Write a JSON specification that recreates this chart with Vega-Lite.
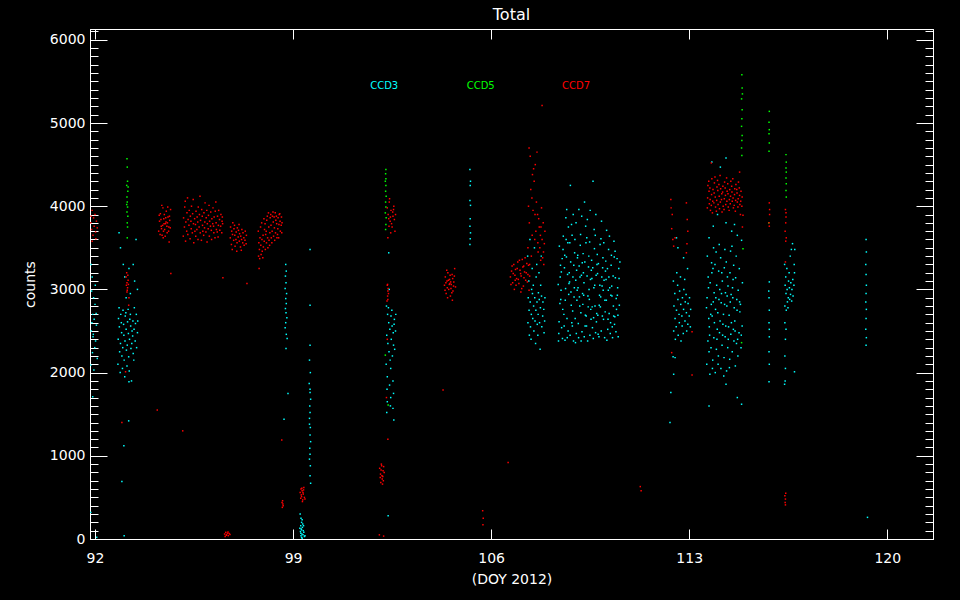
{
"$schema": "https://vega.github.io/schema/vega-lite/v6.json",
"width": 843, "height": 510,
"autosize": {"type": "none"},
"padding": {"left": 90, "top": 29, "right": 27, "bottom": 61},
"background": "black",
"title": {"text": "Total", "color": "white", "font": "DejaVu Sans", "fontSize": 16, "fontWeight": "normal", "offset": 6, "anchor": "middle"},
"datasets": {
"c3": [
{"doy":91.86,"counts":3300},{"doy":91.9,"counts":3150},{"doy":91.88,"counts":2980},{"doy":91.95,"counts":2900},{"doy":92.0,"counts":2820},{"doy":91.92,"counts":2700},{"doy":91.97,"counts":2640},{"doy":92.05,"counts":2570},{"doy":91.87,"counts":2500},{"doy":91.93,"counts":2430},{"doy":92.02,"counts":2380},{"doy":91.99,"counts":2300},{"doy":91.91,"counts":2240},{"doy":92.08,"counts":2170},{"doy":91.85,"counts":2090},{"doy":91.96,"counts":2030},{"doy":92.04,"counts":2710},{"doy":91.89,"counts":2600},{"doy":92.01,"counts":3050},{"doy":91.94,"counts":2460},{"doy":91.92,"counts":1710},{"doy":91.85,"counts":320},{"doy":92.06,"counts":20},
{"doy":92.82,"counts":2400},{"doy":92.83,"counts":2650},{"doy":92.81,"counts":2100},{"doy":92.86,"counts":2550},{"doy":92.87,"counts":2250},{"doy":92.85,"counts":2780},{"doy":92.9,"counts":2350},{"doy":92.91,"counts":2700},{"doy":92.89,"counts":2000},{"doy":92.94,"counts":2480},{"doy":92.95,"counts":2200},{"doy":92.93,"counts":2600},{"doy":92.98,"counts":2300},{"doy":92.99,"counts":2750},{"doy":92.97,"counts":2050},{"doy":93.02,"counts":2450},{"doy":93.03,"counts":2150},{"doy":93.01,"counts":2580},{"doy":93.06,"counts":2380},{"doy":93.07,"counts":2680},{"doy":93.05,"counts":1950},{"doy":93.1,"counts":2520},{"doy":93.11,"counts":2270},{"doy":93.09,"counts":2720},{"doy":93.14,"counts":2330},{"doy":93.15,"counts":2610},{"doy":93.13,"counts":2080},{"doy":93.18,"counts":2470},{"doy":93.19,"counts":2190},{"doy":93.17,"counts":2760},{"doy":93.22,"counts":2400},{"doy":93.23,"counts":2640},{"doy":93.21,"counts":2020},{"doy":93.26,"counts":2560},{"doy":93.27,"counts":2290},{"doy":93.25,"counts":2700},{"doy":93.3,"counts":2350},{"doy":93.31,"counts":2500},{"doy":93.29,"counts":1900},{"doy":93.34,"counts":2620},{"doy":93.35,"counts":2230},{"doy":93.33,"counts":2440},{"doy":93.38,"counts":2520},{"doy":93.39,"counts":2780},{"doy":93.37,"counts":2150},{"doy":93.42,"counts":2380},{"doy":93.43,"counts":2590},{"doy":93.46,"counts":2700},{"doy":93.47,"counts":2300},{"doy":93.5,"counts":2480},{"doy":93.51,"counts":2620},
{"doy":92.85,"counts":3680},{"doy":92.9,"counts":3500},{"doy":93.0,"counts":3300},{"doy":93.05,"counts":3150},{"doy":93.35,"counts":3300},{"doy":93.4,"counts":3100},{"doy":93.45,"counts":3600},{"doy":93.2,"counts":3250},{"doy":93.25,"counts":2950},{"doy":93.1,"counts":2900},{"doy":93.5,"counts":3000},{"doy":93.2,"counts":1890},{"doy":93.19,"counts":1420},{"doy":93.02,"counts":1120},{"doy":92.95,"counts":690},{"doy":93.03,"counts":40},
{"doy":98.74,"counts":3300},{"doy":98.76,"counts":3220},{"doy":98.73,"counts":3160},{"doy":98.75,"counts":3080},{"doy":98.72,"counts":3010},{"doy":98.77,"counts":2950},{"doy":98.74,"counts":2890},{"doy":98.76,"counts":2830},{"doy":98.73,"counts":2770},{"doy":98.75,"counts":2720},{"doy":98.78,"counts":2660},{"doy":98.74,"counts":2600},{"doy":98.72,"counts":2540},{"doy":98.76,"counts":2460},{"doy":98.75,"counts":2290},{"doy":98.79,"counts":2410},{"doy":98.82,"counts":1750},{"doy":98.68,"counts":1440},
{"doy":99.6,"counts":2330},{"doy":99.58,"counts":2150},{"doy":99.61,"counts":2000},{"doy":99.57,"counts":1870},{"doy":99.6,"counts":1760},{"doy":99.62,"counts":1680},{"doy":99.59,"counts":1600},{"doy":99.6,"counts":1520},{"doy":99.58,"counts":1450},{"doy":99.61,"counts":1340},{"doy":99.6,"counts":1250},{"doy":99.62,"counts":1170},{"doy":99.59,"counts":1090},{"doy":99.6,"counts":1020},{"doy":99.58,"counts":960},{"doy":99.61,"counts":880},{"doy":99.6,"counts":760},{"doy":99.62,"counts":670},{"doy":99.58,"counts":1380},{"doy":99.6,"counts":1800},{"doy":99.6,"counts":3480},{"doy":99.6,"counts":2810},
{"doy":99.25,"counts":300},{"doy":99.28,"counts":250},{"doy":99.3,"counts":200},{"doy":99.27,"counts":160},{"doy":99.32,"counts":230},{"doy":99.29,"counts":120},{"doy":99.34,"counts":180},{"doy":99.26,"counts":90},{"doy":99.31,"counts":60},{"doy":99.33,"counts":140},{"doy":99.36,"counts":100},{"doy":99.28,"counts":40},{"doy":99.3,"counts":20},{"doy":99.35,"counts":50},{"doy":99.38,"counts":80},{"doy":99.24,"counts":130},{"doy":99.4,"counts":30},{"doy":99.32,"counts":10},{"doy":99.27,"counts":70},{"doy":99.37,"counts":160},{"doy":99.3,"counts":110},{"doy":99.42,"counts":40},
{"doy":102.3,"counts":2800},{"doy":102.31,"counts":2450},{"doy":102.29,"counts":2100},{"doy":102.34,"counts":2700},{"doy":102.35,"counts":2350},{"doy":102.33,"counts":1950},{"doy":102.38,"counts":2600},{"doy":102.39,"counts":2250},{"doy":102.37,"counts":2780},{"doy":102.42,"counts":2520},{"doy":102.43,"counts":2150},{"doy":102.41,"counts":1850},{"doy":102.46,"counts":2680},{"doy":102.47,"counts":2400},{"doy":102.45,"counts":2050},{"doy":102.5,"counts":2560},{"doy":102.51,"counts":2200},{"doy":102.49,"counts":2750},{"doy":102.54,"counts":2480},{"doy":102.55,"counts":2330},{"doy":102.53,"counts":1900},{"doy":102.58,"counts":2640},{"doy":102.59,"counts":2280},{"doy":102.57,"counts":2580},{"doy":102.62,"counts":2500},{"doy":102.63,"counts":2700},{"doy":102.32,"counts":1800},{"doy":102.33,"counts":1650},{"doy":102.31,"counts":1520},{"doy":102.45,"counts":1700},{"doy":102.44,"counts":1600},{"doy":102.55,"counts":1750},{"doy":102.56,"counts":1430},{"doy":102.38,"counts":3440},{"doy":102.4,"counts":3000},{"doy":102.36,"counts":280},{"doy":102.53,"counts":1570},
{"doy":105.25,"counts":4440},{"doy":105.27,"counts":4300},{"doy":105.26,"counts":4250},{"doy":105.25,"counts":4070},{"doy":105.27,"counts":4010},{"doy":105.26,"counts":3850},{"doy":105.25,"counts":3760},{"doy":105.27,"counts":3680},{"doy":105.26,"counts":3610},{"doy":105.25,"counts":3540},
{"doy":107.3,"counts":2600},{"doy":107.31,"counts":2900},{"doy":107.29,"counts":3400},{"doy":107.34,"counts":2750},{"doy":107.35,"counts":2450},{"doy":107.33,"counts":3100},{"doy":107.38,"counts":2850},{"doy":107.39,"counts":2550},{"doy":107.37,"counts":3600},{"doy":107.42,"counts":2700},{"doy":107.43,"counts":3000},{"doy":107.41,"counts":2400},{"doy":107.46,"counts":2950},{"doy":107.47,"counts":2650},{"doy":107.45,"counts":3250},{"doy":107.5,"counts":2800},{"doy":107.51,"counts":2500},{"doy":107.49,"counts":3050},{"doy":107.54,"counts":2900},{"doy":107.55,"counts":2620},{"doy":107.53,"counts":3500},{"doy":107.58,"counts":2750},{"doy":107.59,"counts":3150},{"doy":107.57,"counts":2350},{"doy":107.62,"counts":2850},{"doy":107.63,"counts":2580},{"doy":107.61,"counts":3300},{"doy":107.66,"counts":2700},{"doy":107.67,"counts":2960},{"doy":107.65,"counts":2450},{"doy":107.7,"counts":2880},{"doy":107.71,"counts":2600},{"doy":107.69,"counts":3200},{"doy":107.74,"counts":2780},{"doy":107.75,"counts":3050},{"doy":107.73,"counts":2280},{"doy":107.78,"counts":2920},{"doy":107.79,"counts":2550},{"doy":107.77,"counts":3400},{"doy":107.82,"counts":2680},{"doy":107.83,"counts":2850},{"doy":107.86,"counts":2760},{"doy":107.87,"counts":2480},{"doy":107.9,"counts":2900},{"doy":107.89,"counts":2620},
{"doy":108.39,"counts":2470},{"doy":108.43,"counts":2830},{"doy":108.37,"counts":3060},{"doy":108.45,"counts":3290},{"doy":108.41,"counts":3520},{"doy":108.4,"counts":2610},{"doy":108.44,"counts":3150},{"doy":108.38,"counts":2380},
{"doy":108.49,"counts":2540},{"doy":108.53,"counts":2760},{"doy":108.47,"counts":2990},{"doy":108.51,"counts":3370},{"doy":108.55,"counts":3640},{"doy":108.48,"counts":3210},{"doy":108.52,"counts":2410},{"doy":108.46,"counts":2880},{"doy":108.54,"counts":3480},
{"doy":108.61,"counts":2390},{"doy":108.57,"counts":2700},{"doy":108.63,"counts":3010},{"doy":108.59,"counts":3260},{"doy":108.65,"counts":3600},{"doy":108.58,"counts":2560},{"doy":108.62,"counts":2870},{"doy":108.6,"counts":3410},{"doy":108.64,"counts":3860},
{"doy":108.72,"counts":2500},{"doy":108.68,"counts":2650},{"doy":108.74,"counts":2940},{"doy":108.7,"counts":3180},{"doy":108.66,"counts":3390},{"doy":108.73,"counts":3750},{"doy":108.69,"counts":2420},{"doy":108.75,"counts":3070},{"doy":108.71,"counts":3560},{"doy":108.67,"counts":3960},
{"doy":108.79,"counts":2450},{"doy":108.83,"counts":2810},{"doy":108.77,"counts":3090},{"doy":108.81,"counts":3330},{"doy":108.85,"counts":2600},{"doy":108.78,"counts":3560},{"doy":108.82,"counts":2970},{"doy":108.76,"counts":3200},{"doy":108.84,"counts":3780},{"doy":108.8,"counts":4250},
{"doy":108.91,"counts":2380},{"doy":108.87,"counts":2560},{"doy":108.93,"counts":2910},{"doy":108.89,"counts":3150},{"doy":108.95,"counts":3440},{"doy":108.88,"counts":2740},{"doy":108.92,"counts":3290},{"doy":108.86,"counts":3650},{"doy":108.94,"counts":3020},{"doy":108.9,"counts":3900},
{"doy":109.01,"counts":2470},{"doy":108.97,"counts":2650},{"doy":109.03,"counts":2870},{"doy":108.99,"counts":3110},{"doy":109.05,"counts":3380},{"doy":108.98,"counts":2360},{"doy":109.02,"counts":3230},{"doy":108.96,"counts":3600},{"doy":109.04,"counts":2990},{"doy":109.0,"counts":3800},
{"doy":109.09,"counts":2420},{"doy":109.13,"counts":2800},{"doy":109.07,"counts":3020},{"doy":109.11,"counts":3280},{"doy":109.15,"counts":3530},{"doy":109.08,"counts":2590},{"doy":109.12,"counts":2910},{"doy":109.06,"counts":3410},{"doy":109.14,"counts":3150},{"doy":109.1,"counts":3960},
{"doy":109.21,"counts":2490},{"doy":109.17,"counts":2720},{"doy":109.23,"counts":2950},{"doy":109.19,"counts":3170},{"doy":109.25,"counts":3430},{"doy":109.18,"counts":2380},{"doy":109.22,"counts":3320},{"doy":109.16,"counts":3660},{"doy":109.24,"counts":2820},{"doy":109.2,"counts":3880},
{"doy":109.29,"counts":2430},{"doy":109.33,"counts":2690},{"doy":109.27,"counts":2930},{"doy":109.31,"counts":3330},{"doy":109.35,"counts":3560},{"doy":109.28,"counts":3080},{"doy":109.32,"counts":2560},{"doy":109.26,"counts":3200},{"doy":109.34,"counts":3760},{"doy":109.3,"counts":4050},
{"doy":109.41,"counts":2380},{"doy":109.37,"counts":2560},{"doy":109.43,"counts":2790},{"doy":109.39,"counts":3160},{"doy":109.45,"counts":3400},{"doy":109.38,"counts":3620},{"doy":109.42,"counts":2920},{"doy":109.36,"counts":2680},{"doy":109.44,"counts":3270},{"doy":109.4,"counts":3840},
{"doy":109.49,"counts":2450},{"doy":109.53,"counts":2640},{"doy":109.47,"counts":2880},{"doy":109.51,"counts":3120},{"doy":109.55,"counts":3350},{"doy":109.48,"counts":3570},{"doy":109.52,"counts":2760},{"doy":109.46,"counts":3000},{"doy":109.54,"counts":3230},{"doy":109.5,"counts":3950},
{"doy":109.61,"counts":2410},{"doy":109.57,"counts":2790},{"doy":109.63,"counts":3020},{"doy":109.59,"counts":3260},{"doy":109.65,"counts":3490},{"doy":109.58,"counts":2540},{"doy":109.62,"counts":2660},{"doy":109.56,"counts":3130},{"doy":109.64,"counts":3720},{"doy":109.6,"counts":4300},
{"doy":109.69,"counts":2480},{"doy":109.73,"counts":2710},{"doy":109.67,"counts":2800},{"doy":109.71,"counts":3170},{"doy":109.75,"counts":3420},{"doy":109.68,"counts":3650},{"doy":109.72,"counts":2610},{"doy":109.66,"counts":3050},{"doy":109.74,"counts":3300},{"doy":109.7,"counts":3900},
{"doy":109.81,"counts":2430},{"doy":109.77,"counts":2690},{"doy":109.83,"counts":2930},{"doy":109.79,"counts":3310},{"doy":109.85,"counts":3540},{"doy":109.78,"counts":2460},{"doy":109.82,"counts":2810},{"doy":109.76,"counts":3190},{"doy":109.84,"counts":3050},
{"doy":109.89,"counts":2500},{"doy":109.93,"counts":2680},{"doy":109.87,"counts":2910},{"doy":109.91,"counts":3150},{"doy":109.95,"counts":3380},{"doy":109.88,"counts":3610},{"doy":109.92,"counts":3040},{"doy":109.86,"counts":2790},{"doy":109.94,"counts":3260},{"doy":109.9,"counts":3820},
{"doy":110.01,"counts":2420},{"doy":109.97,"counts":2640},{"doy":110.03,"counts":2730},{"doy":109.99,"counts":3110},{"doy":110.05,"counts":3340},{"doy":109.98,"counts":3560},{"doy":110.02,"counts":2870},{"doy":109.96,"counts":2990},{"doy":110.04,"counts":3220},
{"doy":110.09,"counts":2390},{"doy":110.13,"counts":2640},{"doy":110.07,"counts":2870},{"doy":110.11,"counts":3250},{"doy":110.15,"counts":3480},{"doy":110.08,"counts":3710},{"doy":110.12,"counts":2520},{"doy":110.06,"counts":3120},{"doy":110.14,"counts":2990},
{"doy":110.21,"counts":2470},{"doy":110.17,"counts":2710},{"doy":110.23,"counts":2930},{"doy":110.19,"counts":3020},{"doy":110.25,"counts":3410},{"doy":110.18,"counts":3640},{"doy":110.22,"counts":2600},{"doy":110.16,"counts":3150},{"doy":110.24,"counts":3290},
{"doy":110.29,"counts":2420},{"doy":110.33,"counts":2680},{"doy":110.27,"counts":2920},{"doy":110.31,"counts":3160},{"doy":110.35,"counts":3390},{"doy":110.28,"counts":2550},{"doy":110.32,"counts":2800},{"doy":110.26,"counts":3040},{"doy":110.34,"counts":3580},
{"doy":110.41,"counts":2490},{"doy":110.37,"counts":2670},{"doy":110.43,"counts":2760},{"doy":110.39,"counts":3140},{"doy":110.45,"counts":3370},{"doy":110.38,"counts":3460},{"doy":110.42,"counts":2890},{"doy":110.36,"counts":2580},
{"doy":110.49,"counts":2430},{"doy":110.53,"counts":2810},{"doy":110.47,"counts":3020},{"doy":110.51,"counts":3250},{"doy":110.55,"counts":3330},{"doy":110.48,"counts":2690},{"doy":110.52,"counts":3130},{"doy":110.46,"counts":2930},
{"doy":112.45,"counts":2500},{"doy":112.46,"counts":2800},{"doy":112.44,"counts":3100},{"doy":112.5,"counts":2650},{"doy":112.51,"counts":2400},{"doy":112.49,"counts":2950},{"doy":112.55,"counts":2750},{"doy":112.56,"counts":3200},{"doy":112.54,"counts":2550},{"doy":112.6,"counts":2880},{"doy":112.61,"counts":2450},{"doy":112.59,"counts":3050},{"doy":112.65,"counts":2600},{"doy":112.66,"counts":2980},{"doy":112.64,"counts":2700},{"doy":112.7,"counts":2820},{"doy":112.71,"counts":2380},{"doy":112.69,"counts":3150},{"doy":112.75,"counts":2560},{"doy":112.76,"counts":2900},{"doy":112.74,"counts":2680},{"doy":112.8,"counts":2760},{"doy":112.81,"counts":3000},{"doy":112.79,"counts":2470},{"doy":112.85,"counts":2620},{"doy":112.86,"counts":2850},{"doy":112.84,"counts":3120},{"doy":112.9,"counts":2720},{"doy":112.91,"counts":2500},{"doy":112.89,"counts":2940},{"doy":112.95,"counts":2580},{"doy":112.96,"counts":2830},{"doy":112.94,"counts":3250},{"doy":113.0,"counts":2680},{"doy":113.01,"counts":2900},{"doy":113.05,"counts":2760},{"doy":113.04,"counts":2550},
{"doy":112.45,"counts":1980},{"doy":112.5,"counts":2180},{"doy":112.6,"counts":3500},{"doy":112.8,"counts":3380},{"doy":112.55,"counts":3620},{"doy":112.43,"counts":2190},{"doy":112.35,"counts":1760},{"doy":112.32,"counts":1400},
{"doy":113.62,"counts":2100},{"doy":113.66,"counts":2380},{"doy":113.69,"counts":2650},{"doy":113.63,"counts":2900},{"doy":113.67,"counts":3150},{"doy":113.64,"counts":3400},{"doy":113.7,"counts":2250},{"doy":113.61,"counts":2780},{"doy":113.68,"counts":3020},
{"doy":113.73,"counts":1980},{"doy":113.77,"counts":2300},{"doy":113.71,"counts":2550},{"doy":113.78,"counts":2820},{"doy":113.74,"counts":3080},{"doy":113.79,"counts":3320},{"doy":113.72,"counts":2450},{"doy":113.76,"counts":2700},{"doy":113.8,"counts":3200},
{"doy":113.83,"counts":2150},{"doy":113.87,"counts":2420},{"doy":113.81,"counts":2680},{"doy":113.88,"counts":2960},{"doy":113.84,"counts":3250},{"doy":113.86,"counts":3500},{"doy":113.82,"counts":2050},{"doy":113.89,"counts":2600},{"doy":113.85,"counts":2850},
{"doy":113.92,"counts":2000},{"doy":113.96,"counts":2280},{"doy":113.99,"counts":2520},{"doy":113.93,"counts":2760},{"doy":113.97,"counts":3050},{"doy":113.91,"counts":3300},{"doy":113.98,"counts":2400},{"doy":113.94,"counts":2900},{"doy":113.95,"counts":3450},
{"doy":114.03,"counts":2200},{"doy":114.07,"counts":2480},{"doy":114.01,"counts":2720},{"doy":114.08,"counts":3000},{"doy":114.04,"counts":3220},{"doy":114.06,"counts":3540},{"doy":114.02,"counts":2100},{"doy":114.09,"counts":2620},{"doy":114.05,"counts":2880},
{"doy":114.12,"counts":2050},{"doy":114.16,"counts":2330},{"doy":114.19,"counts":2580},{"doy":114.13,"counts":2840},{"doy":114.17,"counts":3100},{"doy":114.11,"counts":3380},{"doy":114.18,"counts":2450},{"doy":114.14,"counts":2950},{"doy":114.15,"counts":3200},
{"doy":114.23,"counts":2180},{"doy":114.27,"counts":2430},{"doy":114.21,"counts":2700},{"doy":114.28,"counts":2960},{"doy":114.24,"counts":3260},{"doy":114.26,"counts":3480},{"doy":114.22,"counts":1960},{"doy":114.29,"counts":2560},{"doy":114.25,"counts":2820},
{"doy":114.32,"counts":2020},{"doy":114.36,"counts":2300},{"doy":114.39,"counts":2550},{"doy":114.33,"counts":2800},{"doy":114.37,"counts":3040},{"doy":114.31,"counts":3330},{"doy":114.38,"counts":2400},{"doy":114.34,"counts":2920},{"doy":114.35,"counts":3150},
{"doy":114.43,"counts":2160},{"doy":114.47,"counts":2460},{"doy":114.41,"counts":2690},{"doy":114.48,"counts":2940},{"doy":114.44,"counts":3200},{"doy":114.46,"counts":3460},{"doy":114.42,"counts":2060},{"doy":114.49,"counts":2600},{"doy":114.45,"counts":2850},
{"doy":114.52,"counts":2250},{"doy":114.56,"counts":2520},{"doy":114.59,"counts":2780},{"doy":114.53,"counts":3020},{"doy":114.57,"counts":3290},{"doy":114.51,"counts":3520},{"doy":114.58,"counts":2380},{"doy":114.54,"counts":2900},{"doy":114.55,"counts":3120},
{"doy":114.63,"counts":2080},{"doy":114.67,"counts":2350},{"doy":114.61,"counts":2620},{"doy":114.68,"counts":2880},{"doy":114.64,"counts":3140},{"doy":114.66,"counts":3400},{"doy":114.62,"counts":2500},{"doy":114.69,"counts":2750},
{"doy":114.72,"counts":2200},{"doy":114.76,"counts":2480},{"doy":114.79,"counts":2730},{"doy":114.73,"counts":2990},{"doy":114.77,"counts":3250},{"doy":114.71,"counts":2400},{"doy":114.78,"counts":2850},
{"doy":114.83,"counts":2300},{"doy":114.87,"counts":2560},{"doy":114.81,"counts":2820},{"doy":114.88,"counts":3080},{"doy":114.84,"counts":2450},
{"doy":113.7,"counts":3620},{"doy":113.85,"counts":3760},{"doy":114.0,"counts":3900},{"doy":114.3,"counts":3800},{"doy":114.5,"counts":3700},{"doy":114.7,"counts":3650},{"doy":113.8,"counts":4530},{"doy":114.1,"counts":4470},{"doy":114.3,"counts":4580},{"doy":114.6,"counts":3780},{"doy":114.85,"counts":3590},{"doy":114.7,"counts":1700},{"doy":113.7,"counts":1600},{"doy":114.85,"counts":1620},{"doy":114.3,"counts":1860},
{"doy":115.83,"counts":3090},{"doy":115.82,"counts":2900},{"doy":115.83,"counts":2750},{"doy":115.82,"counts":2600},{"doy":115.83,"counts":2430},{"doy":115.82,"counts":2250},{"doy":115.83,"counts":2100},{"doy":115.82,"counts":1890},{"doy":115.81,"counts":2980},{"doy":115.83,"counts":2520},
{"doy":116.38,"counts":2800},{"doy":116.39,"counts":3050},{"doy":116.37,"counts":3300},{"doy":116.42,"counts":2950},{"doy":116.43,"counts":2750},{"doy":116.41,"counts":3150},{"doy":116.46,"counts":3000},{"doy":116.47,"counts":2850},{"doy":116.45,"counts":3250},{"doy":116.5,"counts":2900},{"doy":116.51,"counts":3100},{"doy":116.49,"counts":2780},{"doy":116.54,"counts":3020},{"doy":116.55,"counts":2880},{"doy":116.53,"counts":3200},{"doy":116.58,"counts":2940},{"doy":116.59,"counts":3080},{"doy":116.57,"counts":3400},{"doy":116.62,"counts":2860},{"doy":116.63,"counts":3000},{"doy":116.61,"counts":3480},{"doy":116.66,"counts":3120},{"doy":116.67,"counts":2920},{"doy":116.65,"counts":3550},{"doy":116.7,"counts":3050},{"doy":116.71,"counts":3300},{"doy":116.73,"counts":3480},{"doy":116.72,"counts":3200},
{"doy":116.38,"counts":2600},{"doy":116.4,"counts":2400},{"doy":116.38,"counts":2200},{"doy":116.4,"counts":2050},{"doy":116.39,"counts":1900},{"doy":116.42,"counts":2520},{"doy":116.72,"counts":2010},{"doy":116.37,"counts":1860},
{"doy":119.25,"counts":3600},{"doy":119.26,"counts":3450},{"doy":119.24,"counts":3300},{"doy":119.25,"counts":3180},{"doy":119.26,"counts":3050},{"doy":119.25,"counts":2950},{"doy":119.24,"counts":2850},{"doy":119.26,"counts":2760},{"doy":119.25,"counts":2650},{"doy":119.24,"counts":2520},{"doy":119.26,"counts":2420},{"doy":119.25,"counts":2330},{"doy":119.3,"counts":260}
],
"c5": [
{"doy":93.13,"counts":4570},{"doy":93.14,"counts":4470},{"doy":93.15,"counts":4300},{"doy":93.12,"counts":4250},{"doy":93.16,"counts":4180},{"doy":93.13,"counts":4110},{"doy":93.14,"counts":4050},{"doy":93.15,"counts":3990},{"doy":93.13,"counts":3930},{"doy":93.16,"counts":3880},{"doy":93.14,"counts":3800},{"doy":93.15,"counts":3750},{"doy":93.17,"counts":4230},{"doy":93.12,"counts":4020},{"doy":93.14,"counts":3620},
{"doy":102.28,"counts":4440},{"doy":102.27,"counts":4390},{"doy":102.26,"counts":4300},{"doy":102.28,"counts":4250},{"doy":102.27,"counts":4180},{"doy":102.29,"counts":4120},{"doy":102.27,"counts":4050},{"doy":102.28,"counts":3990},{"doy":102.26,"counts":3920},{"doy":102.29,"counts":3860},{"doy":102.28,"counts":3780},{"doy":102.27,"counts":3720},{"doy":102.26,"counts":2210},{"doy":102.36,"counts":1610},{"doy":102.28,"counts":4330},
{"doy":114.86,"counts":5580},{"doy":114.87,"counts":5420},{"doy":114.85,"counts":5290},{"doy":114.87,"counts":5160},{"doy":114.86,"counts":5050},{"doy":114.85,"counts":4960},{"doy":114.87,"counts":4850},{"doy":114.86,"counts":4790},{"doy":114.85,"counts":4700},{"doy":114.86,"counts":4610},{"doy":114.88,"counts":5350},{"doy":114.9,"counts":3490},{"doy":114.85,"counts":2360},
{"doy":115.83,"counts":5140},{"doy":115.82,"counts":5010},{"doy":115.83,"counts":4920},{"doy":115.82,"counts":4870},{"doy":115.83,"counts":4760},{"doy":115.82,"counts":4660},{"doy":115.81,"counts":3800},
{"doy":116.42,"counts":4620},{"doy":116.43,"counts":4530},{"doy":116.42,"counts":4460},{"doy":116.43,"counts":4410},{"doy":116.42,"counts":4340},{"doy":116.43,"counts":4270},{"doy":116.42,"counts":4190},{"doy":116.43,"counts":4110}
],
"c7": [
{"doy":91.85,"counts":3800},{"doy":91.88,"counts":3720},{"doy":91.9,"counts":3950},{"doy":91.93,"counts":3650},{"doy":91.95,"counts":3860},{"doy":91.97,"counts":3760},{"doy":92.0,"counts":3900},{"doy":92.02,"counts":3690},{"doy":92.05,"counts":3820},{"doy":91.9,"counts":3580},{"doy":92.08,"counts":3740},{"doy":91.86,"counts":3880},{"doy":92.03,"counts":3610},
{"doy":93.1,"counts":3150},{"doy":93.13,"counts":3080},{"doy":93.15,"counts":3020},{"doy":93.12,"counts":3200},{"doy":93.17,"counts":3110},{"doy":93.14,"counts":2990},{"doy":93.11,"counts":3050},{"doy":93.16,"counts":3170},{"doy":93.13,"counts":2970},{"doy":93.18,"counts":3060},{"doy":93.2,"counts":2900},{"doy":93.19,"counts":2810},{"doy":93.08,"counts":2010},
{"doy":94.25,"counts":3700},{"doy":94.28,"counts":3820},{"doy":94.31,"counts":3910},{"doy":94.34,"counts":3760},{"doy":94.37,"counts":3650},{"doy":94.4,"counts":3980},{"doy":94.43,"counts":3850},{"doy":94.46,"counts":3720},{"doy":94.49,"counts":3790},{"doy":94.52,"counts":3940},{"doy":94.55,"counts":3680},{"doy":94.58,"counts":3870},{"doy":94.61,"counts":3750},{"doy":94.64,"counts":3830},{"doy":94.67,"counts":3960},{"doy":94.27,"counts":3890},{"doy":94.3,"counts":3660},{"doy":94.33,"counts":3840},{"doy":94.36,"counts":4010},{"doy":94.39,"counts":3770},{"doy":94.42,"counts":3700},{"doy":94.45,"counts":3900},{"doy":94.48,"counts":3640},{"doy":94.51,"counts":3810},{"doy":94.54,"counts":3760},{"doy":94.57,"counts":3990},{"doy":94.6,"counts":3700},{"doy":94.63,"counts":3880},{"doy":94.66,"counts":3740},{"doy":94.35,"counts":3730},{"doy":94.44,"counts":3790},{"doy":94.5,"counts":3860},{"doy":94.41,"counts":3620},{"doy":94.56,"counts":3800},{"doy":94.62,"counts":3570},{"doy":94.68,"counts":3190},
{"doy":95.12,"counts":3640},{"doy":95.13,"counts":3860},{"doy":95.16,"counts":3750},{"doy":95.17,"counts":3990},{"doy":95.2,"counts":3580},{"doy":95.21,"counts":3810},{"doy":95.19,"counts":4060},{"doy":95.24,"counts":3700},{"doy":95.25,"counts":3920},{"doy":95.28,"counts":3660},{"doy":95.29,"counts":3840},{"doy":95.27,"counts":4100},{"doy":95.32,"counts":3770},{"doy":95.33,"counts":3950},{"doy":95.36,"counts":3610},{"doy":95.37,"counts":3880},{"doy":95.4,"counts":3730},{"doy":95.41,"counts":4000},{"doy":95.39,"counts":3820},{"doy":95.44,"counts":3680},{"doy":95.45,"counts":3910},{"doy":95.48,"counts":3790},{"doy":95.49,"counts":3560},{"doy":95.47,"counts":4080},{"doy":95.52,"counts":3850},{"doy":95.53,"counts":3700},{"doy":95.56,"counts":3640},{"doy":95.57,"counts":3940},{"doy":95.55,"counts":3780},{"doy":95.6,"counts":3720},{"doy":95.61,"counts":3870},{"doy":95.64,"counts":3600},{"doy":95.65,"counts":3990},{"doy":95.63,"counts":3810},{"doy":95.68,"counts":3750},{"doy":95.69,"counts":3900},{"doy":95.72,"counts":3680},{"doy":95.73,"counts":3830},{"doy":95.71,"counts":4120},{"doy":95.76,"counts":3590},{"doy":95.77,"counts":3960},{"doy":95.8,"counts":3770},{"doy":95.81,"counts":3700},{"doy":95.79,"counts":3880},{"doy":95.84,"counts":3650},{"doy":95.85,"counts":3920},{"doy":95.88,"counts":3810},{"doy":95.89,"counts":4040},{"doy":95.87,"counts":3740},{"doy":95.92,"counts":3690},{"doy":95.93,"counts":3860},{"doy":95.96,"counts":3570},{"doy":95.97,"counts":3790},{"doy":95.95,"counts":3950},{"doy":96.0,"counts":3730},{"doy":96.01,"counts":3890},{"doy":96.04,"counts":3640},{"doy":96.05,"counts":3820},{"doy":96.03,"counts":4010},{"doy":96.08,"counts":3760},{"doy":96.09,"counts":3930},{"doy":96.12,"counts":3600},{"doy":96.13,"counts":3850},{"doy":96.11,"counts":3710},{"doy":96.16,"counts":3790},{"doy":96.17,"counts":3980},{"doy":96.2,"counts":3680},{"doy":96.21,"counts":3870},{"doy":96.19,"counts":3760},{"doy":96.24,"counts":3620},{"doy":96.25,"counts":3940},{"doy":96.28,"counts":3800},{"doy":96.29,"counts":3720},{"doy":96.27,"counts":4050},{"doy":96.32,"counts":3690},{"doy":96.33,"counts":3880},{"doy":96.36,"counts":3770},{"doy":96.37,"counts":3950},{"doy":96.35,"counts":3630},{"doy":96.4,"counts":3840},{"doy":96.41,"counts":3710},{"doy":96.44,"counts":3760},{"doy":96.45,"counts":3900},{"doy":96.48,"counts":3680},{"doy":96.49,"counts":3820},{"doy":96.51,"counts":3790},{"doy":96.5,"counts":3870},
{"doy":96.78,"counts":3620},{"doy":96.79,"counts":3750},{"doy":96.82,"counts":3540},{"doy":96.83,"counts":3700},{"doy":96.86,"counts":3660},{"doy":96.87,"counts":3800},{"doy":96.85,"counts":3480},{"doy":96.9,"counts":3590},{"doy":96.91,"counts":3730},{"doy":96.94,"counts":3650},{"doy":96.95,"counts":3520},{"doy":96.93,"counts":3770},{"doy":96.98,"counts":3600},{"doy":96.99,"counts":3690},{"doy":97.02,"counts":3560},{"doy":97.03,"counts":3740},{"doy":97.01,"counts":3460},{"doy":97.06,"counts":3630},{"doy":97.07,"counts":3710},{"doy":97.1,"counts":3580},{"doy":97.11,"counts":3670},{"doy":97.09,"counts":3780},{"doy":97.14,"counts":3510},{"doy":97.15,"counts":3640},{"doy":97.18,"counts":3600},{"doy":97.19,"counts":3720},{"doy":97.17,"counts":3470},{"doy":97.22,"counts":3560},{"doy":97.23,"counts":3680},{"doy":97.26,"counts":3620},{"doy":97.27,"counts":3530},{"doy":97.3,"counts":3590},{"doy":97.31,"counts":3700},{"doy":97.34,"counts":3550},{"doy":97.35,"counts":3650},{"doy":96.52,"counts":3140},{"doy":97.37,"counts":3070},
{"doy":97.78,"counts":3400},{"doy":97.79,"counts":3560},{"doy":97.77,"counts":3700},{"doy":97.82,"counts":3370},{"doy":97.83,"counts":3620},{"doy":97.81,"counts":3480},{"doy":97.86,"counts":3530},{"doy":97.87,"counts":3420},{"doy":97.85,"counts":3750},{"doy":97.9,"counts":3600},{"doy":97.91,"counts":3460},{"doy":97.89,"counts":3800},{"doy":97.94,"counts":3650},{"doy":97.95,"counts":3510},{"doy":97.93,"counts":3380},{"doy":97.98,"counts":3580},{"doy":97.99,"counts":3720},{"doy":97.97,"counts":3850},{"doy":98.02,"counts":3480},{"doy":98.03,"counts":3660},{"doy":98.01,"counts":3790},{"doy":98.06,"counts":3560},{"doy":98.07,"counts":3830},{"doy":98.05,"counts":3700},{"doy":98.1,"counts":3620},{"doy":98.11,"counts":3500},{"doy":98.09,"counts":3880},{"doy":98.14,"counts":3750},{"doy":98.15,"counts":3590},{"doy":98.13,"counts":3920},{"doy":98.18,"counts":3680},{"doy":98.19,"counts":3860},{"doy":98.17,"counts":3530},{"doy":98.22,"counts":3770},{"doy":98.23,"counts":3620},{"doy":98.21,"counts":3900},{"doy":98.26,"counts":3700},{"doy":98.27,"counts":3880},{"doy":98.25,"counts":3560},{"doy":98.3,"counts":3810},{"doy":98.31,"counts":3640},{"doy":98.29,"counts":3930},{"doy":98.34,"counts":3740},{"doy":98.35,"counts":3590},{"doy":98.33,"counts":3870},{"doy":98.38,"counts":3680},{"doy":98.39,"counts":3830},{"doy":98.37,"counts":3920},{"doy":98.42,"counts":3790},{"doy":98.43,"counts":3620},{"doy":98.41,"counts":3880},{"doy":98.46,"counts":3730},{"doy":98.47,"counts":3860},{"doy":98.45,"counts":3660},{"doy":98.5,"counts":3780},{"doy":98.51,"counts":3900},{"doy":98.49,"counts":3620},{"doy":98.54,"counts":3820},{"doy":98.55,"counts":3700},{"doy":98.53,"counts":3910},{"doy":98.58,"counts":3770},{"doy":98.59,"counts":3870},{"doy":98.61,"counts":3800},{"doy":98.6,"counts":3680},{"doy":97.8,"counts":3250},
{"doy":96.58,"counts":60},{"doy":96.62,"counts":80},{"doy":96.65,"counts":50},{"doy":96.68,"counts":70},{"doy":96.71,"counts":40},{"doy":96.74,"counts":65},{"doy":96.6,"counts":30},{"doy":96.7,"counts":85},{"doy":96.77,"counts":55},{"doy":96.64,"counts":45},
{"doy":98.62,"counts":380},{"doy":98.64,"counts":420},{"doy":98.63,"counts":460},{"doy":98.65,"counts":400},{"doy":98.61,"counts":440},
{"doy":99.25,"counts":560},{"doy":99.28,"counts":600},{"doy":99.3,"counts":510},{"doy":99.32,"counts":580},{"doy":99.34,"counts":470},{"doy":99.36,"counts":540},{"doy":99.38,"counts":620},{"doy":99.4,"counts":500},{"doy":99.33,"counts":450},{"doy":99.29,"counts":530},{"doy":99.37,"counts":590},{"doy":99.42,"counts":480},{"doy":99.31,"counts":610},{"doy":99.35,"counts":560},{"doy":99.27,"counts":490},
{"doy":102.33,"counts":3980},{"doy":102.36,"counts":3900},{"doy":102.4,"counts":4050},{"doy":102.43,"counts":3820},{"doy":102.46,"counts":3950},{"doy":102.5,"counts":3750},{"doy":102.53,"counts":3880},{"doy":102.56,"counts":4000},{"doy":102.6,"counts":3700},{"doy":102.38,"counts":3850},{"doy":102.45,"counts":3680},{"doy":102.52,"counts":3930},{"doy":102.41,"counts":4090},{"doy":102.48,"counts":3790},{"doy":102.58,"counts":3840},{"doy":102.35,"counts":3620},{"doy":102.44,"counts":3870},{"doy":102.55,"counts":3960},{"doy":102.62,"counts":3900},{"doy":102.39,"counts":3760},
{"doy":102.33,"counts":3050},{"doy":102.35,"counts":2980},{"doy":102.34,"counts":2920},{"doy":102.36,"counts":3010},{"doy":102.32,"counts":2860},{"doy":102.37,"counts":2950},{"doy":102.34,"counts":3060},{"doy":102.35,"counts":2880},{"doy":102.33,"counts":2400},{"doy":102.3,"counts":1700},
{"doy":102.06,"counts":850},{"doy":102.09,"counts":780},{"doy":102.12,"counts":900},{"doy":102.15,"counts":720},{"doy":102.18,"counts":820},{"doy":102.1,"counts":680},{"doy":102.14,"counts":760},{"doy":102.2,"counts":870},{"doy":102.08,"counts":740},{"doy":102.16,"counts":660},{"doy":102.22,"counts":800},{"doy":102.11,"counts":830},{"doy":102.19,"counts":700},{"doy":102.13,"counts":880},{"doy":102.17,"counts":750},
{"doy":104.35,"counts":3050},{"doy":104.38,"counts":3150},{"doy":104.41,"counts":2950},{"doy":104.44,"counts":3100},{"doy":104.47,"counts":3200},{"doy":104.5,"counts":3000},{"doy":104.53,"counts":3120},{"doy":104.56,"counts":2920},{"doy":104.59,"counts":3060},{"doy":104.62,"counts":3180},{"doy":104.65,"counts":2980},{"doy":104.68,"counts":3090},{"doy":104.71,"counts":3250},{"doy":104.74,"counts":3030},{"doy":104.37,"counts":2990},{"doy":104.4,"counts":3080},{"doy":104.43,"counts":3230},{"doy":104.46,"counts":2900},{"doy":104.49,"counts":3110},{"doy":104.52,"counts":3060},{"doy":104.55,"counts":3170},{"doy":104.58,"counts":3010},{"doy":104.61,"counts":2960},{"doy":104.64,"counts":3130},{"doy":104.67,"counts":3040},{"doy":104.7,"counts":3160},{"doy":104.45,"counts":3020},{"doy":104.57,"counts":3090},{"doy":104.63,"counts":2870},{"doy":104.54,"counts":3070},
{"doy":106.68,"counts":3150},{"doy":106.72,"counts":3220},{"doy":106.76,"counts":3080},{"doy":106.8,"counts":3300},{"doy":106.84,"counts":3170},{"doy":106.88,"counts":3050},{"doy":106.92,"counts":3250},{"doy":106.96,"counts":3120},{"doy":107.0,"counts":3350},{"doy":107.04,"counts":3190},{"doy":107.08,"counts":3010},{"doy":107.12,"counts":3270},{"doy":107.16,"counts":3140},{"doy":107.2,"counts":3380},{"doy":107.24,"counts":3200},{"doy":107.28,"counts":3090},{"doy":107.32,"counts":3290},{"doy":107.36,"counts":3160},{"doy":106.7,"counts":3060},{"doy":106.74,"counts":3280},{"doy":106.78,"counts":3190},{"doy":106.82,"counts":3000},{"doy":106.86,"counts":3240},{"doy":106.9,"counts":3130},{"doy":106.94,"counts":3330},{"doy":106.98,"counts":3070},{"doy":107.02,"counts":3230},{"doy":107.06,"counts":3160},{"doy":107.1,"counts":3360},{"doy":107.14,"counts":3040},{"doy":107.18,"counts":3210},{"doy":107.22,"counts":3110},{"doy":107.26,"counts":3310},{"doy":107.3,"counts":3180},{"doy":107.34,"counts":2990},{"doy":106.85,"counts":3110},{"doy":107.05,"counts":2970},{"doy":107.15,"counts":3280},
{"doy":107.3,"counts":3500},{"doy":107.35,"counts":3800},{"doy":107.4,"counts":4200},{"doy":107.45,"counts":3650},{"doy":107.5,"counts":4450},{"doy":107.55,"counts":3900},{"doy":107.6,"counts":4050},{"doy":107.65,"counts":3560},{"doy":107.7,"counts":3750},{"doy":107.75,"counts":3350},{"doy":107.8,"counts":3600},{"doy":107.85,"counts":3450},{"doy":107.9,"counts":3700},{"doy":107.32,"counts":4000},{"doy":107.38,"counts":4600},{"doy":107.42,"counts":3400},{"doy":107.48,"counts":3950},{"doy":107.52,"counts":4300},{"doy":107.58,"counts":3700},{"doy":107.62,"counts":4650},{"doy":107.68,"counts":3850},{"doy":107.72,"counts":3500},{"doy":107.78,"counts":3980},{"doy":107.82,"counts":3380},{"doy":107.88,"counts":3550},{"doy":107.36,"counts":3300},{"doy":107.44,"counts":4100},{"doy":107.54,"counts":3600},{"doy":107.64,"counts":3900},{"doy":107.74,"counts":3650},{"doy":107.84,"counts":3800},{"doy":107.46,"counts":4380},{"doy":107.56,"counts":4500},{"doy":107.66,"counts":3450},{"doy":107.76,"counts":3750},{"doy":107.86,"counts":3300},{"doy":107.34,"counts":4700},{"doy":107.8,"counts":5210},
{"doy":113.65,"counts":4100},{"doy":113.66,"counts":4250},{"doy":113.64,"counts":3980},{"doy":113.7,"counts":4180},{"doy":113.71,"counts":4030},{"doy":113.69,"counts":4300},{"doy":113.74,"counts":4080},{"doy":113.75,"counts":3950},{"doy":113.73,"counts":4220},{"doy":113.79,"counts":4140},{"doy":113.8,"counts":4330},{"doy":113.78,"counts":4010},{"doy":113.83,"counts":4060},{"doy":113.84,"counts":4200},{"doy":113.82,"counts":3920},{"doy":113.88,"counts":4160},{"doy":113.89,"counts":4280},{"doy":113.87,"counts":4040},{"doy":113.92,"counts":4110},{"doy":113.93,"counts":3990},{"doy":113.91,"counts":4350},{"doy":113.97,"counts":4070},{"doy":113.98,"counts":4230},{"doy":113.96,"counts":3940},{"doy":114.01,"counts":4190},{"doy":114.02,"counts":4020},{"doy":114.0,"counts":4310},{"doy":114.06,"counts":4120},{"doy":114.07,"counts":3970},{"doy":114.05,"counts":4260},{"doy":114.1,"counts":4050},{"doy":114.11,"counts":4210},{"doy":114.09,"counts":4370},{"doy":114.15,"counts":4150},{"doy":114.16,"counts":3930},{"doy":114.14,"counts":4080},{"doy":114.19,"counts":4240},{"doy":114.2,"counts":4000},{"doy":114.18,"counts":4170},{"doy":114.24,"counts":4090},{"doy":114.25,"counts":4290},{"doy":114.23,"counts":3960},{"doy":114.28,"counts":4130},{"doy":114.29,"counts":4020},{"doy":114.27,"counts":4220},{"doy":114.33,"counts":4060},{"doy":114.34,"counts":4180},{"doy":114.32,"counts":4340},{"doy":114.37,"counts":4150},{"doy":114.38,"counts":3990},{"doy":114.36,"counts":4270},{"doy":114.42,"counts":4080},{"doy":114.43,"counts":4200},{"doy":114.41,"counts":3950},{"doy":114.46,"counts":4120},{"doy":114.47,"counts":4300},{"doy":114.45,"counts":4030},{"doy":114.51,"counts":4170},{"doy":114.52,"counts":4060},{"doy":114.5,"counts":4240},{"doy":114.55,"counts":4100},{"doy":114.56,"counts":3980},{"doy":114.54,"counts":4330},{"doy":114.6,"counts":4140},{"doy":114.61,"counts":4210},{"doy":114.59,"counts":4010},{"doy":114.64,"counts":4070},{"doy":114.65,"counts":4260},{"doy":114.63,"counts":3940},{"doy":114.69,"counts":4160},{"doy":114.7,"counts":4050},{"doy":114.68,"counts":4200},{"doy":114.73,"counts":4090},{"doy":114.74,"counts":4290},{"doy":114.72,"counts":3990},{"doy":114.78,"counts":4130},{"doy":114.79,"counts":4020},{"doy":114.77,"counts":4220},{"doy":114.82,"counts":4060},{"doy":114.83,"counts":4180},{"doy":114.81,"counts":3900},{"doy":114.87,"counts":4110},{"doy":114.86,"counts":4000},
{"doy":113.78,"counts":4520},{"doy":114.78,"counts":4410},{"doy":114.9,"counts":3890},{"doy":114.88,"counts":3750},
{"doy":112.35,"counts":4080},{"doy":112.4,"counts":3900},{"doy":112.45,"counts":3520},{"doy":112.5,"counts":3620},{"doy":112.38,"counts":3730},{"doy":112.9,"counts":4040},{"doy":112.95,"counts":3700},{"doy":112.92,"counts":3550},{"doy":112.93,"counts":3840},{"doy":112.42,"counts":3600},{"doy":112.36,"counts":3980},{"doy":112.9,"counts":3440},{"doy":112.38,"counts":2240},{"doy":113.1,"counts":1970},{"doy":113.1,"counts":2490},
{"doy":115.83,"counts":4040},{"doy":115.84,"counts":3900},{"doy":115.82,"counts":3800},{"doy":115.83,"counts":3760},{"doy":115.84,"counts":3960},
{"doy":116.4,"counts":3960},{"doy":116.42,"counts":3870},{"doy":116.41,"counts":3800},{"doy":116.43,"counts":3620},{"doy":116.39,"counts":3700},{"doy":116.41,"counts":3580},{"doy":116.4,"counts":3330},{"doy":116.42,"counts":3920},
{"doy":116.38,"counts":520},{"doy":116.4,"counts":480},{"doy":116.39,"counts":440},{"doy":116.41,"counts":550},{"doy":116.4,"counts":410},
{"doy":92.95,"counts":1400},{"doy":94.2,"counts":1550},{"doy":95.1,"counts":1300},{"doy":98.6,"counts":1190},{"doy":102.35,"counts":1200},{"doy":104.3,"counts":1790},{"doy":102.05,"counts":50},{"doy":102.2,"counts":35},{"doy":105.7,"counts":340},{"doy":105.72,"counts":250},{"doy":105.71,"counts":170},{"doy":111.27,"counts":630},{"doy":111.3,"counts":580},{"doy":106.6,"counts":920}
],
"lab": [
{"doy":102.22,"counts":5450,"t":"CCD3"},{"doy":105.63,"counts":5450,"t":"CCD5"},{"doy":109.0,"counts":5450,"t":"CCD7"}
]
},
"layer": [
{"data": {"name": "c3"},
 "mark": {"type": "square", "size": 2.2, "color": "#00ffff", "opacity": 1, "strokeWidth": 0},
 "encoding": {
  "x": {"field": "doy", "type": "quantitative", "scale": {"domain": [91.823, 121.615], "nice": false, "zero": false},
        "axis": {"orient": "bottom", "values": [92, 99, 106, 113, 120], "tickSize": -10, "labelPadding": 22, "title": "(DOY 2012)", "titlePadding": 7}},
  "y": {"field": "counts", "type": "quantitative", "scale": {"domain": [0, 6130], "nice": false, "zero": false},
        "axis": {"orient": "left", "values": [0, 1000, 2000, 3000, 4000, 5000, 6000], "format": "d", "tickSize": -17, "labelPadding": 22, "title": "counts", "titlePadding": 12}}
 }},
{"data": {"name": "c5"},
 "mark": {"type": "square", "size": 2.2, "color": "#00ff00", "opacity": 1, "strokeWidth": 0},
 "encoding": {
  "x": {"field": "doy", "type": "quantitative", "scale": {"domain": [91.823, 121.615], "nice": false, "zero": false},
        "axis": {"orient": "top", "values": [92, 99, 106, 113, 120], "tickSize": -10, "labels": false, "title": null}},
  "y": {"field": "counts", "type": "quantitative", "scale": {"domain": [0, 6130], "nice": false, "zero": false},
        "axis": {"orient": "left", "values": [0,100,200,300,400,500,600,700,800,900,1000,1100,1200,1300,1400,1500,1600,1700,1800,1900,2000,2100,2200,2300,2400,2500,2600,2700,2800,2900,3000,3100,3200,3300,3400,3500,3600,3700,3800,3900,4000,4100,4200,4300,4400,4500,4600,4700,4800,4900,5000,5100,5200,5300,5400,5500,5600,5700,5800,5900,6000,6100], "tickSize": -8, "labels": false, "title": null}}
 }},
{"data": {"name": "c7"},
 "mark": {"type": "square", "size": 2.2, "color": "#ff0000", "opacity": 1, "strokeWidth": 0},
 "encoding": {
  "x": {"field": "doy", "type": "quantitative", "scale": {"domain": [91.823, 121.615], "nice": false, "zero": false}, "axis": null},
  "y": {"field": "counts", "type": "quantitative", "scale": {"domain": [0, 6130], "nice": false, "zero": false},
        "axis": {"orient": "right", "values": [0, 1000, 2000, 3000, 4000, 5000, 6000], "tickSize": -17, "labels": false, "title": null}}
 }},
{"data": {"name": "lab"},
 "mark": {"type": "text", "font": "DejaVu Sans", "fontSize": 10, "align": "center", "baseline": "middle"},
 "encoding": {
  "x": {"field": "doy", "type": "quantitative", "scale": {"domain": [91.823, 121.615], "nice": false, "zero": false}, "axis": null},
  "y": {"field": "counts", "type": "quantitative", "scale": {"domain": [0, 6130], "nice": false, "zero": false},
        "axis": {"orient": "right", "values": [0,100,200,300,400,500,600,700,800,900,1000,1100,1200,1300,1400,1500,1600,1700,1800,1900,2000,2100,2200,2300,2400,2500,2600,2700,2800,2900,3000,3100,3200,3300,3400,3500,3600,3700,3800,3900,4000,4100,4200,4300,4400,4500,4600,4700,4800,4900,5000,5100,5200,5300,5400,5500,5600,5700,5800,5900,6000,6100], "tickSize": -8, "labels": false, "title": null}},
  "text": {"field": "t"},
  "color": {"field": "t", "type": "nominal", "scale": {"domain": ["CCD3", "CCD5", "CCD7"], "range": ["#00ffff", "#00ff00", "#ff0000"]}, "legend": null}
 }}
],
"resolve": {"axis": {"x": "independent", "y": "independent"}},
"config": {
 "view": {"stroke": "white", "strokeWidth": 1},
 "axis": {"domainColor": "white", "domainWidth": 1, "tickColor": "white", "tickWidth": 1, "labelColor": "white", "titleColor": "white",
          "labelFont": "DejaVu Sans", "titleFont": "DejaVu Sans", "labelFontSize": 14, "titleFontSize": 14, "titleFontWeight": "normal",
          "grid": false, "labelFlush": false, "labelOverlap": false}
}
}
